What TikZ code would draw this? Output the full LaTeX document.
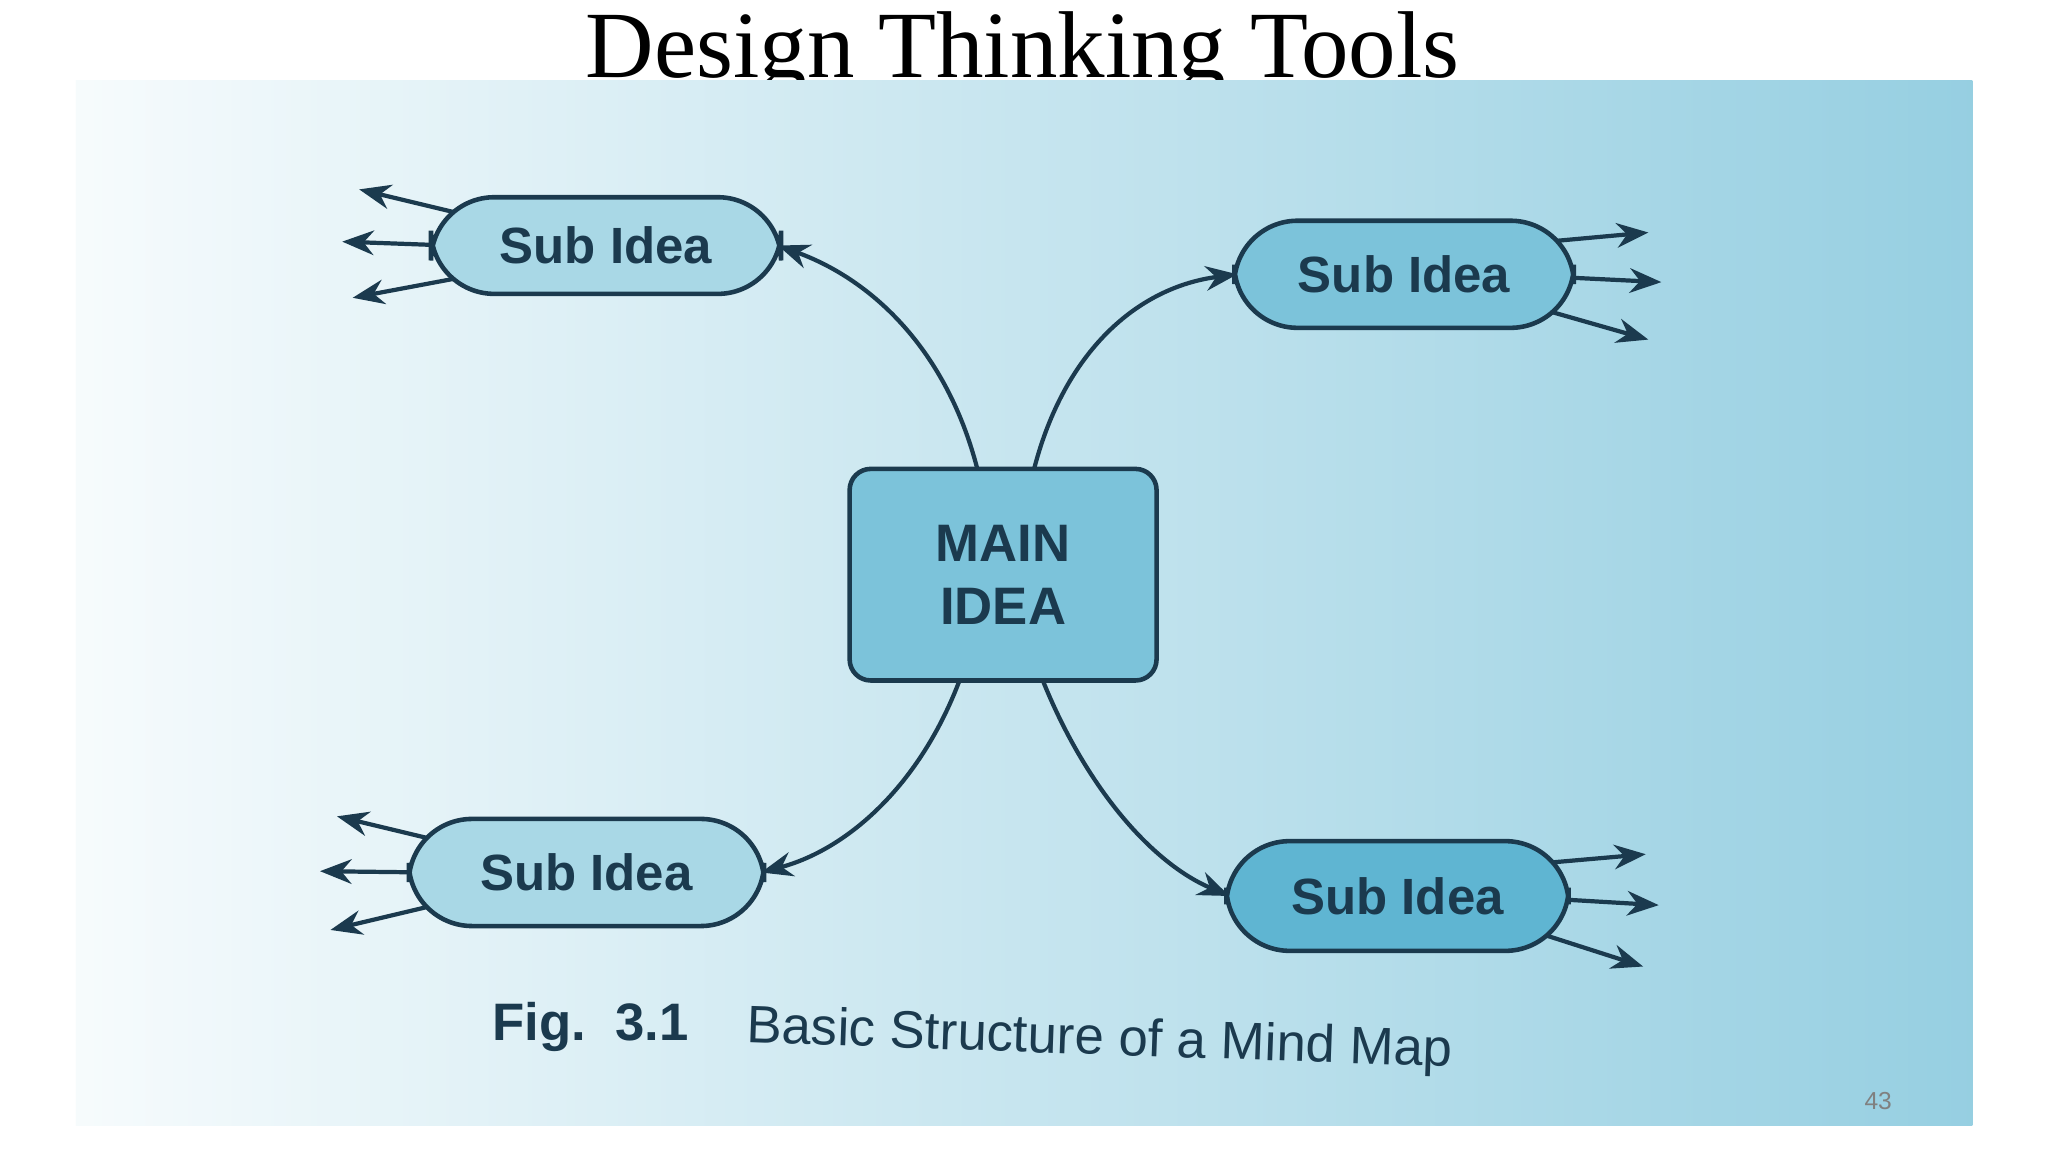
\documentclass[tikz,border=0pt]{standalone}
\usepackage{fontspec}
\setmainfont{Liberation Serif}
\setsansfont{Liberation Sans}
\usetikzlibrary{arrows.meta}
\definecolor{ink}{HTML}{1B3A4E}
\definecolor{boxa}{HTML}{A9D8E6}
\definecolor{boxb}{HTML}{7CC3DA}
\definecolor{boxc}{HTML}{5FB5D2}
\tikzset{
  subidea/.style={draw=ink,line width=1.3pt,rounded corners=18pt,fill=boxa,font=\sffamily\bfseries\fontsize{14.5}{16}\selectfont,text=ink},
  con/.style={draw=ink,line width=1.2pt,-{Stealth[length=9pt,width=7pt]}},
  twig/.style={draw=ink,line width=1.2pt,-{Stealth[length=9pt,width=7pt]}}
}
\begin{document}
\begin{tikzpicture}[x=0.013061cm,y=-0.013061cm]
\useasboundingbox (0,0) rectangle (1568,882);
\fill[white] (0,0) rectangle (1568,882);
\node[font=\fontsize{27}{30}\selectfont] (title) at (783,42) {Design Thinking Tools};
\shade[left color=white!90!boxa, right color=boxb!80!white] (58,62) rectangle (1510,862);
\coordinate (m1) at (748,358); \coordinate (m2) at (792,358);
\coordinate (m3) at (735,520); \coordinate (m4) at (798,520);
\coordinate (tla) at (275,145); \coordinate (tlb) at (262,185); \coordinate (tlc) at (270,228);
\coordinate (bla) at (258,625); \coordinate (blb) at (245,667); \coordinate (blc) at (253,712);
\coordinate (tra) at (1262,178); \coordinate (trb) at (1272,216); \coordinate (trc) at (1262,260);
\coordinate (bra) at (1260,654); \coordinate (brb) at (1270,693); \coordinate (brc) at (1258,740);
\coordinate (tl1) at (350,163); \coordinate (tl2) at (345,188); \coordinate (tl3) at (350,213);
\coordinate (bl1) at (333,643); \coordinate (bl2) at (328,668); \coordinate (bl3) at (333,693);
\coordinate (tr1) at (1185,185); \coordinate (tr2) at (1190,212); \coordinate (tr3) at (1185,238);
\coordinate (br1) at (1180,661); \coordinate (br2) at (1185,688); \coordinate (br3) at (1180,715);
\draw[twig] (tl1) -- (tla); \draw[twig] (tl2) -- (tlb); \draw[twig] (tl3) -- (tlc);
\draw[twig] (bl1) -- (bla); \draw[twig] (bl2) -- (blb); \draw[twig] (bl3) -- (blc);
\draw[twig] (tr1) -- (tra); \draw[twig] (tr2) -- (trb); \draw[twig] (tr3) -- (trc);
\draw[twig] (br1) -- (bra); \draw[twig] (br2) -- (brb); \draw[twig] (br3) -- (brc);
\node[draw=ink,line width=1.3pt,rounded corners=6pt,fill=boxb,minimum width=235*0.013061cm,minimum height=162*0.013061cm,align=center,font=\sffamily\bfseries\fontsize{15}{18}\selectfont,text=ink] (main) at (768,440) {MAIN\\IDEA};
\node[subidea,minimum width=268*0.013061cm,minimum height=74*0.013061cm] (tl) at (464,188) {Sub Idea};
\node[subidea,fill=boxb,minimum width=260*0.013061cm,minimum height=82*0.013061cm] (tr) at (1075,210) {Sub Idea};
\node[subidea,minimum width=272*0.013061cm,minimum height=82*0.013061cm] (bl) at (449,668) {Sub Idea};
\node[subidea,fill=boxc,minimum width=262*0.013061cm,minimum height=84*0.013061cm] (br) at (1070,686) {Sub Idea};
\draw[con] (m1) .. controls (725,270) and (670,215) .. ([xshift=-1.5pt]tl.east);
\draw[con] (m2) .. controls (815,270) and (870,220) .. ([xshift=1.5pt]tr.west);
\draw[con] (m3) .. controls (705,600) and (650,650) .. ([xshift=-1.5pt]bl.east);
\draw[con] (m4) .. controls (830,600) and (880,660) .. ([xshift=1.5pt]br.west);
\node[font=\sffamily\bfseries\fontsize{15}{18}\selectfont,text=ink] (fig) at (452,786) {Fig.\ \ 3.1};
\node[font=\sffamily\fontsize{15}{18}\selectfont,text=ink,rotate=-2] (cap) at (842,797) {Basic Structure of a Mind Map};
\node[font=\sffamily\fontsize{7}{8}\selectfont,text=gray] (pg) at (1438,843) {43};
\end{tikzpicture}
\end{document}
